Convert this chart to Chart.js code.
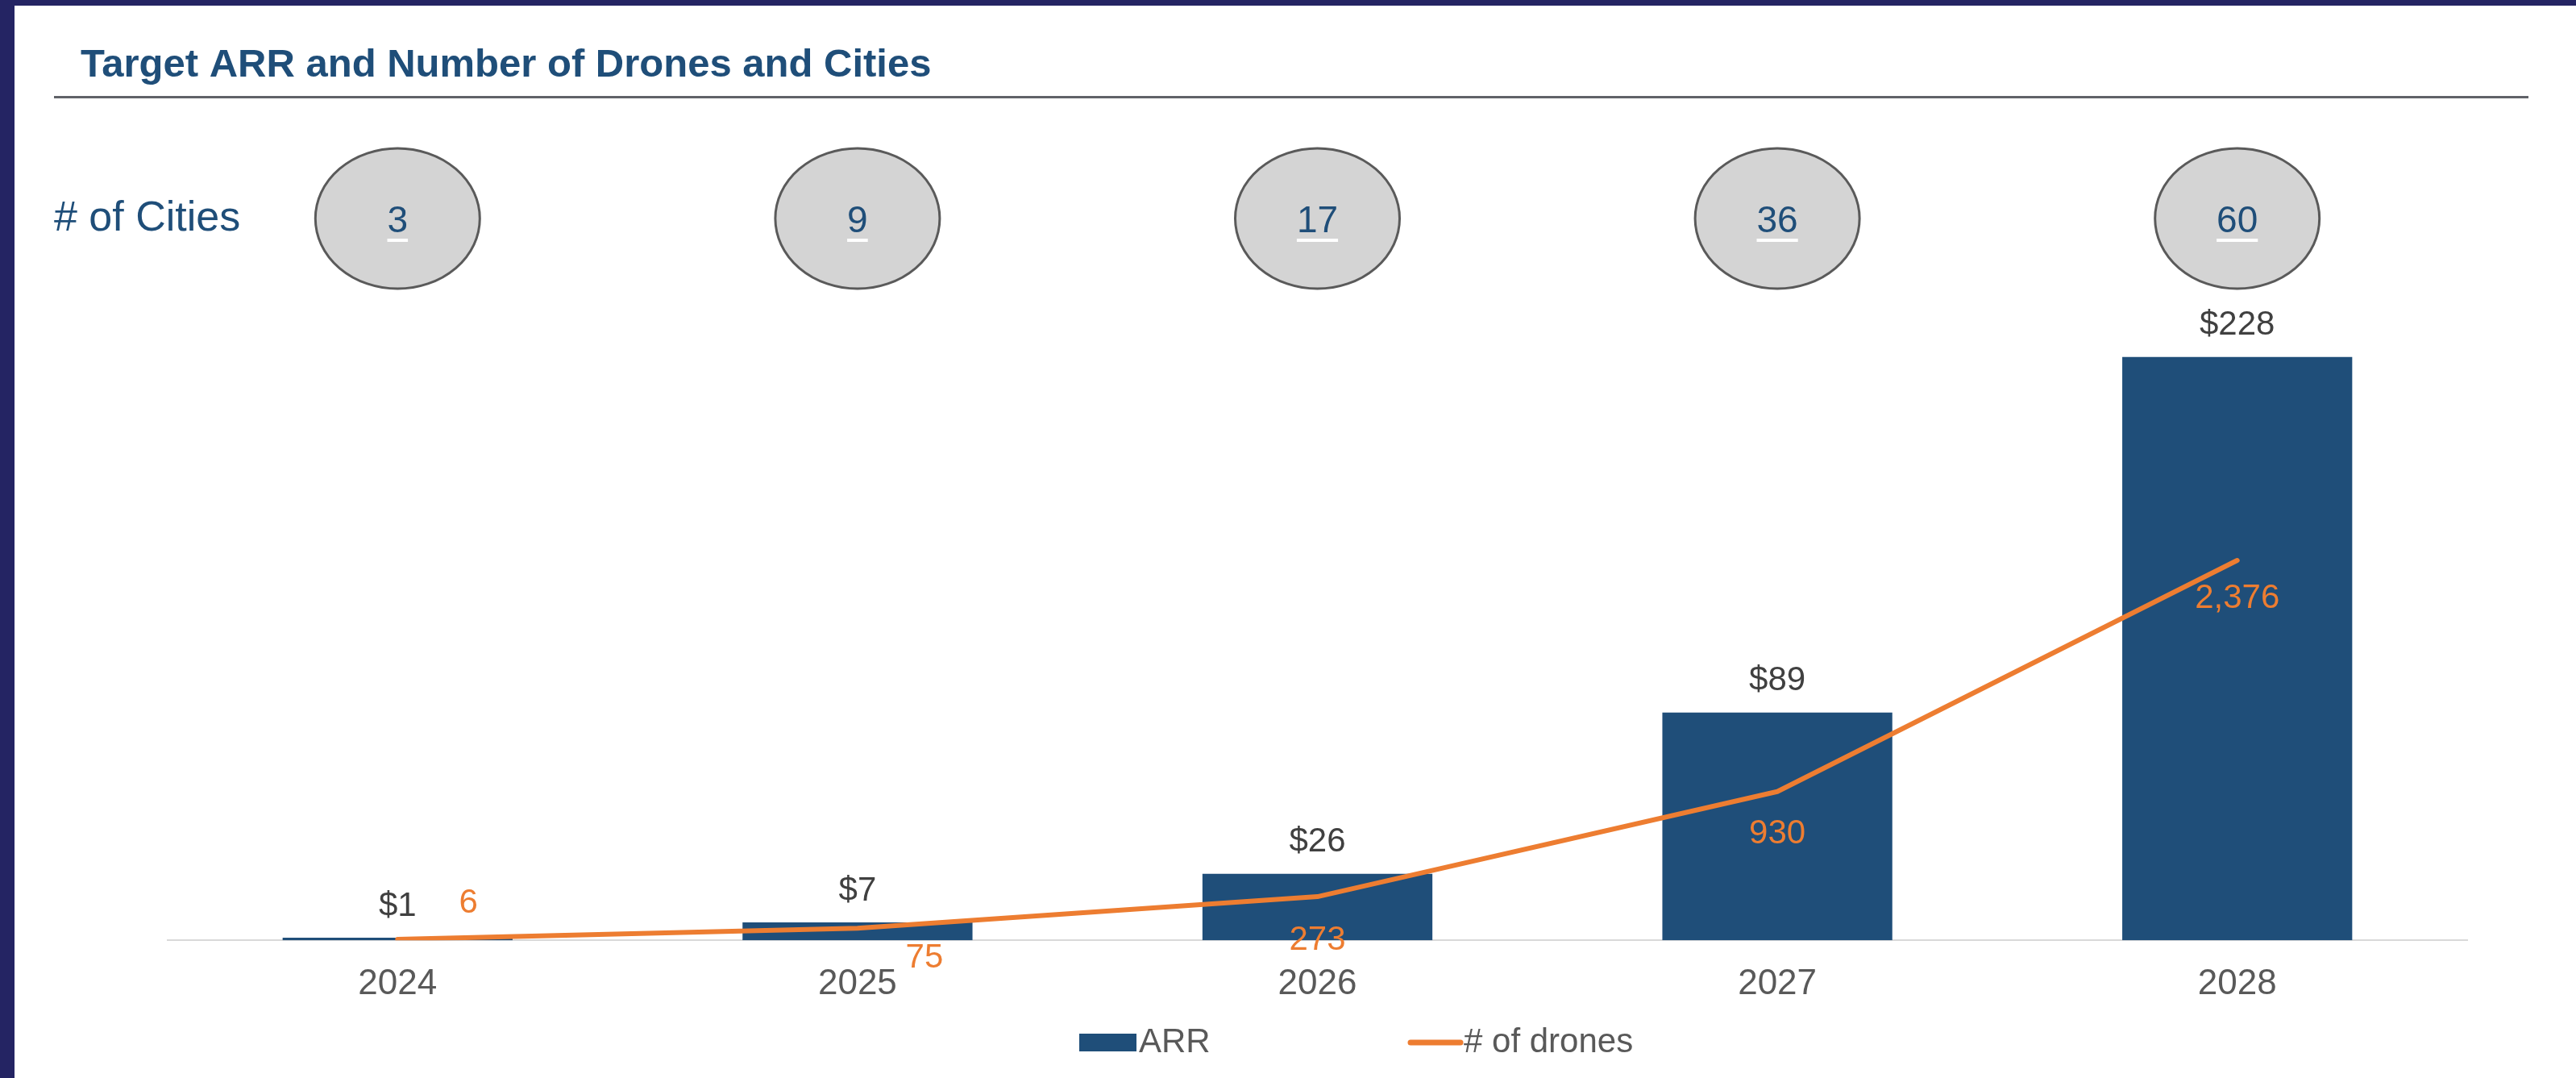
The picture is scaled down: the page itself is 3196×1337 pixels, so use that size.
<!DOCTYPE html>
<html>
<head>
<meta charset="utf-8">
<script src="https://cdn.jsdelivr.net/npm/chart.js@4.4.1/dist/chart.umd.min.js"></script>
<style>
  html, body { margin: 0; padding: 0; background: #242463; overflow: hidden; }
  #panel { position: absolute; left: 18px; top: 7px; width: 3178px; height: 1330px; background: #ffffff; }
  #wrap { position: absolute; left: 0; top: 0; width: 3178px; height: 1330px; }
</style>
</head>
<body>
<div id="panel"><div id="wrap"><canvas id="c"></canvas></div></div>
<script>
// ---- data ----
const years = ['2024', '2025', '2026', '2027', '2028'];
const arrValues = [1, 7, 26, 89, 228];
const droneValues = [6, 75, 273, 930, 2376];
const cityCounts = [3, 9, 17, 36, 60];
const titleText = 'Target ARR and Number of Drones and Cities';
const citiesLabel = '# of Cities';
const seriesNames = ['ARR', '# of drones'];

// ---- style ----
const NAVY = '#1f4e79';
const ORANGE = '#ed7d31';
const GREY_TXT = '#595959';
const FONT = '"Liberation Sans", Arial, sans-serif';
// placement of drone labels relative to their points: [dx, dy]
const droneLabelOffsets = [[88, -45], [83, 37], [0, 54], [0, 53], [0, 47]];

const overlay = {
  id: 'overlay',
  afterDatasetsDraw(chart) {
    const ctx = chart.ctx;
    const xs = chart.scales.x;
    ctx.save();
    // title
    ctx.fillStyle = NAVY;
    ctx.font = 'bold 49px ' + FONT;
    ctx.textBaseline = 'alphabetic';
    ctx.textAlign = 'left';
    ctx.fillText(titleText, 82, 88);
    // separator
    ctx.strokeStyle = '#606268';
    ctx.lineWidth = 3;
    ctx.beginPath(); ctx.moveTo(49, 113.5); ctx.lineTo(3119, 113.5); ctx.stroke();
    // # of Cities
    ctx.font = '52px ' + FONT;
    ctx.textBaseline = 'middle';
    ctx.fillText(citiesLabel, 49, 265);
    // ellipses
    cityCounts.forEach((v, i) => {
      const cx = xs.getPixelForValue(i);
      const cy = 264;
      ctx.beginPath();
      ctx.ellipse(cx, cy, 102, 87, 0, 0, Math.PI * 2);
      ctx.fillStyle = '#d4d4d4';
      ctx.fill();
      ctx.lineWidth = 3;
      ctx.strokeStyle = '#5a5a5a';
      ctx.stroke();
      ctx.font = '46px ' + FONT;
      ctx.fillStyle = NAVY;
      ctx.textAlign = 'center';
      ctx.textBaseline = 'alphabetic';
      const t = String(v);
      ctx.fillText(t, cx, cy + 17);
      const w = ctx.measureText(t).width;
      ctx.fillStyle = '#ffffff';
      ctx.fillRect(cx - w / 2, cy + 25, w, 4);
    });
    // ARR labels
    const barMeta = chart.getDatasetMeta(0);
    ctx.font = '42px ' + FONT;
    ctx.textAlign = 'center';
    ctx.textBaseline = 'middle';
    ctx.fillStyle = '#404040';
    barMeta.data.forEach((el, i) => {
      ctx.fillText('$' + arrValues[i], el.x, el.y - 39);
    });
    // drone labels
    const lineMeta = chart.getDatasetMeta(1);
    ctx.fillStyle = ORANGE;
    lineMeta.data.forEach((el, i) => {
      const o = droneLabelOffsets[i];
      ctx.fillText(droneValues[i].toLocaleString('en-US'), el.x + o[0], el.y + o[1]);
    });
    // legend
    const ly = 1286;
    ctx.fillStyle = NAVY;
    ctx.fillRect(1321, ly - 11, 71, 22);
    ctx.fillStyle = GREY_TXT;
    ctx.textAlign = 'left';
    ctx.font = '42px ' + FONT;
    ctx.fillText(seriesNames[0], 1395, ly);
    ctx.strokeStyle = ORANGE;
    ctx.lineWidth = 7;
    ctx.lineCap = 'round';
    ctx.beginPath(); ctx.moveTo(1732, ly); ctx.lineTo(1794, ly); ctx.stroke();
    ctx.fillText(seriesNames[1], 1798, ly);
    ctx.restore();
  }
};

new Chart(document.getElementById('c'), {
  data: {
    labels: years,
    datasets: [
      {
        type: 'bar', label: seriesNames[0], data: arrValues, yAxisID: 'y',
        backgroundColor: NAVY, categoryPercentage: 1.0, barPercentage: 0.5, order: 2
      },
      {
        type: 'line', label: seriesNames[1], data: droneValues, yAxisID: 'y1',
        borderColor: ORANGE, borderWidth: 6, pointRadius: 0, tension: 0,
        borderCapStyle: 'round', borderJoinStyle: 'round', order: 1
      }
    ]
  },
  options: {
    responsive: true, maintainAspectRatio: false, animation: false,
    layout: { padding: { left: 190, right: 135, top: 366, bottom: 62 } },
    plugins: { legend: { display: false }, tooltip: { enabled: false }, title: { display: false } },
    scales: {
      x: {
        grid: { display: false, drawTicks: false },
        border: { display: true, color: '#d9d9d9', width: 2 },
        ticks: { color: GREY_TXT, font: { size: 44, family: FONT }, padding: 28 }
      },
      y: { display: false, min: 0, max: 250 },
      y1: { display: false, min: 0, max: 4000, position: 'right' }
    }
  },
  plugins: [overlay]
});
</script>
</body>
</html>
